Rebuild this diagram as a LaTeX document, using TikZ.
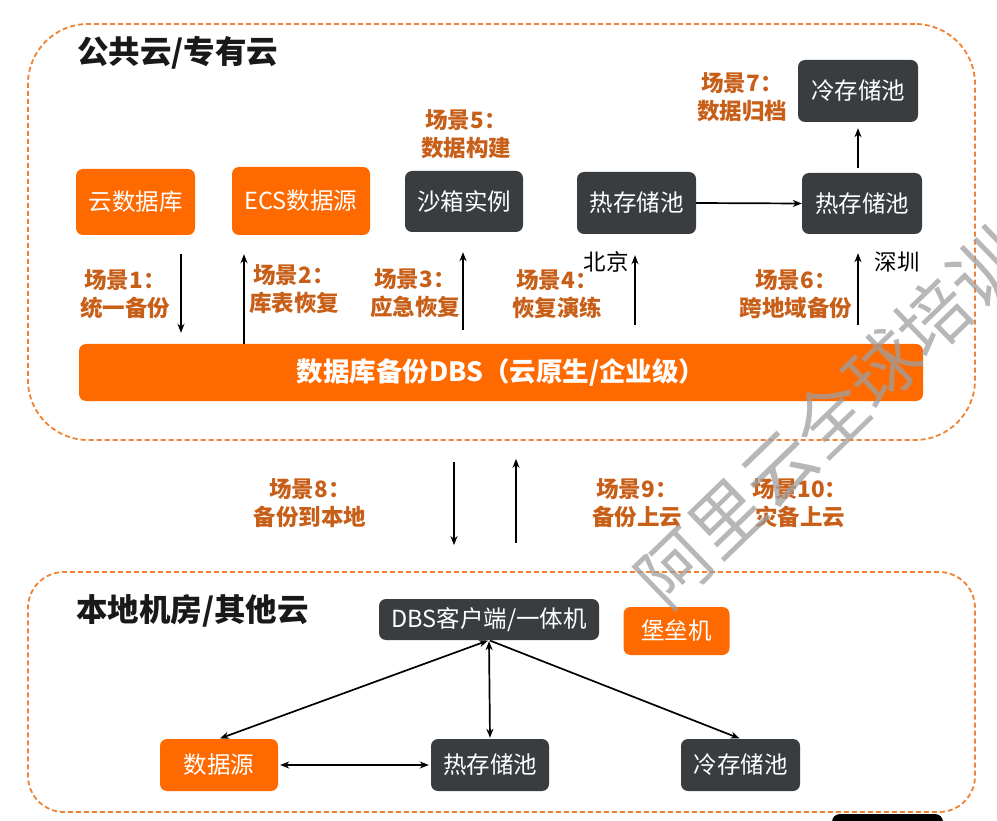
\documentclass[tikz,border=0pt]{standalone}
\usepackage{fontspec}
\setmainfont{Noto Sans CJK SC}
\usetikzlibrary{arrows.meta,calc}
\definecolor{aliorange}{RGB}{255,106,0}
\definecolor{darkbox}{RGB}{58,61,64}
\definecolor{lblcolor}{RGB}{200,95,25}
\definecolor{dashcolor}{RGB}{240,130,50}
\newcommand\boxfont{\fontsize{23.5}{27}\selectfont}
\newcommand\lblfont{\bfseries\fontsize{22.5}{28}\selectfont}
\newcommand\titlefont{\bfseries\fontsize{31.5}{36}\selectfont}
\tikzset{
  box/.style={rounded corners=7pt, inner sep=0pt, text=white, font=\boxfont, align=center},
  obox/.style={box, fill=aliorange},
  dbox/.style={box, fill=darkbox},
  lbl/.style={text=lblcolor, font=\lblfont, align=center, inner sep=0pt},
  city/.style={text=black, font=\fontsize{22.5}{26}\selectfont, inner sep=0pt},
  ttl/.style={text=black!90, font=\titlefont, inner sep=0pt, anchor=west},
  arr/.style={line width=1.7pt, -{Stealth[length=9pt,width=7pt]}},
  darr/.style={line width=1.7pt, {Stealth[length=9pt,width=7pt]}-{Stealth[length=9pt,width=7pt]}},
  region/.style={draw=dashcolor, line width=1.8pt, dash pattern=on 5pt off 3pt, inner sep=0pt},
}
\begin{document}
\begin{tikzpicture}[x=1pt,y=-1pt]
\useasboundingbox (0,0) rectangle (997,821);
\fill[white] (0,0) rectangle (997,821);

% regions
\node[region, rounded corners=60pt, minimum width=947pt, minimum height=416pt] (cloud) at (501.5,232) {};
\node[region, rounded corners=36pt, minimum width=947pt, minimum height=240pt] (local) at (501.5,692) {};
\node[ttl] (t1) at (77,53) {公共云/专有云};
\node[ttl] (t2) at (76,611) {本地机房/其他云};

% top boxes
\node[obox, minimum width=119pt, minimum height=66pt] (db) at (135.5,202) {云数据库};
\node[obox, minimum width=138pt, minimum height=68pt] (ecs) at (301,201) {ECS数据源};
\node[dbox, minimum width=118pt, minimum height=61pt] (sand) at (464,201.5) {沙箱实例};
\node[dbox, minimum width=119pt, minimum height=62pt] (hotbj) at (636.5,203) {热存储池};
\node[dbox, minimum width=120pt, minimum height=61pt] (hotsz) at (862,203.5) {热存储池};
\node[dbox, minimum width=120pt, minimum height=62pt] (coldtop) at (858,91) {冷存储池};
\node[box, fill=aliorange, minimum width=844pt, minimum height=57pt,
      font=\bfseries\fontsize{26.5}{30}\selectfont] (bar) at (501,372.5) {数据库备份DBS（云原生/企业级）};

% top labels
\node[lbl] (s1) at (125,294) {场景1：\\统一备份};
\node[lbl] (s2) at (294,289) {场景2：\\库表恢复};
\node[lbl] (s3) at (415,293) {场景3：\\应急恢复};
\node[lbl] (s4) at (557,294) {场景4：\\恢复演练};
\node[lbl] (s5) at (466,134) {场景5：\\数据构建};
\node[lbl] (s6) at (796,294) {场景6：\\跨地域备份};
\node[lbl] (s7) at (742,97) {场景7：\\数据归档};
\node[city] (bj) at (606,262) {北京};
\node[city] (sz) at (897,262) {深圳};

% top arrows
\coordinate (c1) at (181,300);
\coordinate (c2) at (244,300);
\coordinate (c3) at (463,300);
\coordinate (c4) at (635,300);
\coordinate (c6) at (858,300);
\draw[arr, shorten <=19pt, shorten >=11pt] (c1 |- db.south) -- (c1 |- bar.north);
\draw[arr, shorten <=0pt, shorten >=19pt] (c2 |- bar.north) -- (c2 |- ecs.south);
\draw[arr, shorten <=14pt, shorten >=20pt] (c3 |- bar.north) -- (c3 |- sand.south);
\draw[arr, shorten <=19pt, shorten >=21pt] (c4 |- bar.north) -- (c4 |- hotbj.south);
\draw[arr, shorten <=19pt, shorten >=19pt] (c6 |- bar.north) -- (c6 |- hotsz.south);
\draw[arr] (hotbj.east) -- (hotsz.west);
\draw[arr, shorten <=5pt, shorten >=6pt] (c6 |- hotsz.north) -- (c6 |- coldtop.south);

% middle
\coordinate (m1) at (454,500);
\coordinate (m2) at (516,500);
\draw[arr, shorten <=21pt, shorten >=26pt] (m1 |- cloud.south) -- (m1 |- local.north);
\draw[arr, shorten <=28pt, shorten >=18pt] (m2 |- local.north) -- (m2 |- cloud.south);
\node[lbl] (s8) at (310,503) {场景8：\\备份到本地};
\node[lbl] (s9) at (637,503) {场景9：\\备份上云};
\node[lbl] (s10) at (800,503) {场景10：\\灾备上云};

% bottom boxes
\node[dbox, minimum width=220pt, minimum height=41pt] (client) at (489,619.5) {DBS客户端/一体机};
\node[obox, minimum width=106pt, minimum height=48pt] (bastion) at (676.5,631) {堡垒机};
\node[obox, minimum width=118pt, minimum height=52pt] (src) at (219,765) {数据源};
\node[dbox, minimum width=118pt, minimum height=52pt] (hotl) at (490,765) {热存储池};
\node[dbox, minimum width=119pt, minimum height=52pt] (coldl) at (740.5,765) {冷存储池};

\draw[darr, shorten <=1pt, shorten >=1pt] (client.south) -- (src.north);
\draw[darr, shorten <=1pt, shorten >=1pt] (client.south) -- (hotl.north);
\draw[arr, shorten <=1pt, shorten >=1pt] (client.south) -- (coldl.north);
\draw[darr, shorten <=2pt, shorten >=2pt] (src.east) -- (hotl.west);

% cut-off shape at the bottom edge
\fill[black, rounded corners=8pt] (832,814) rectangle (943,845);

% watermark
\node[rotate=44, text=gray!75, opacity=0.75, font=\fontsize{72}{72}\selectfont, inner sep=0pt] (wm) at (830,418) {阿里云全球培训};
\end{tikzpicture}
\end{document}
